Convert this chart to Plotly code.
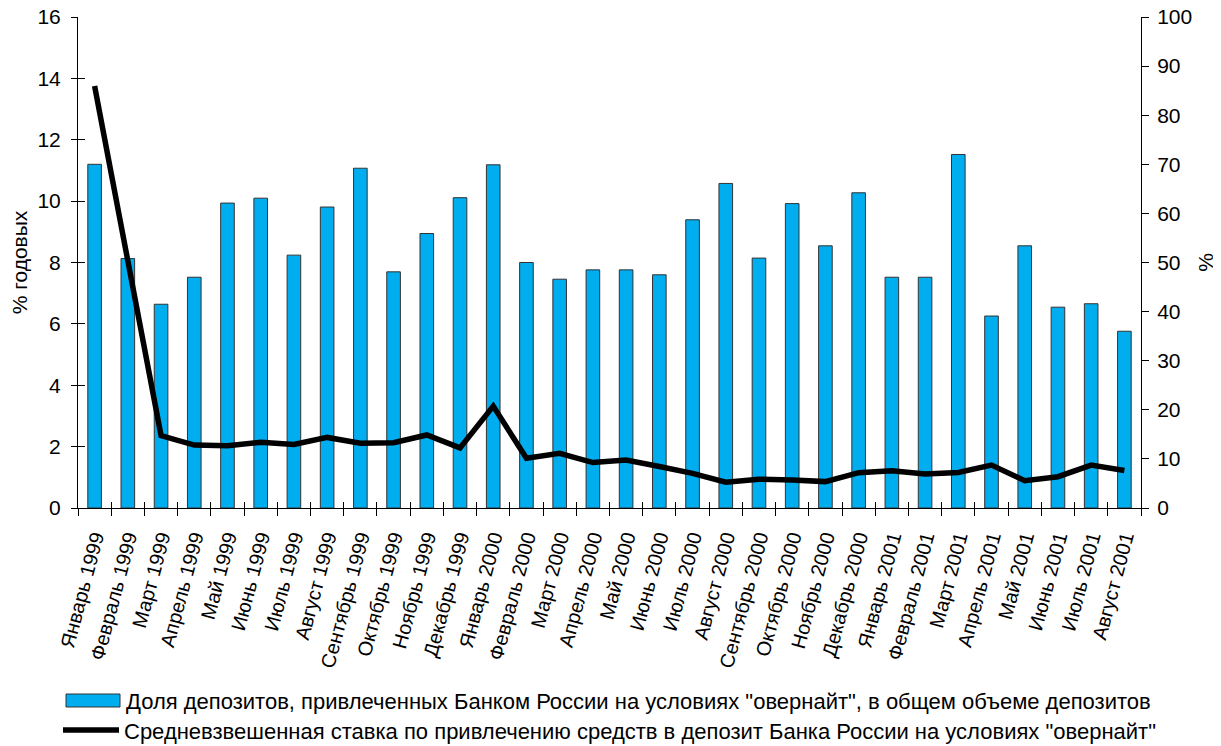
import plotly.graph_objects as go

months = ["Январь 1999", "Февраль 1999", "Март 1999", "Апрель 1999", "Май 1999", "Июнь 1999",
          "Июль 1999", "Август 1999", "Сентябрь 1999", "Октябрь 1999", "Ноябрь 1999", "Декабрь 1999",
          "Январь 2000", "Февраль 2000", "Март 2000", "Апрель 2000", "Май 2000", "Июнь 2000",
          "Июль 2000", "Август 2000", "Сентябрь 2000", "Октябрь 2000", "Ноябрь 2000", "Декабрь 2000",
          "Январь 2001", "Февраль 2001", "Март 2001", "Апрель 2001", "Май 2001", "Июнь 2001",
          "Июль 2001", "Август 2001"]

share_pct = [70.0, 50.8, 41.5, 47.0, 62.1, 63.1, 51.5, 61.3, 69.2, 48.1, 55.9, 63.2,
             69.9, 50.0, 46.6, 48.5, 48.5, 47.5, 58.7, 66.1, 50.9, 62.0, 53.4, 64.2,
             47.0, 47.0, 72.0, 39.1, 53.4, 40.9, 41.6, 36.0]

rate_pa = [13.75, 8.0, 2.36, 2.05, 2.03, 2.14, 2.07, 2.30, 2.11, 2.13, 2.38, 1.96,
           3.32, 1.62, 1.78, 1.48, 1.56, 1.35, 1.13, 0.84, 0.94, 0.91, 0.86, 1.15,
           1.21, 1.11, 1.16, 1.40, 0.89, 1.02, 1.40, 1.22]

name_bar = 'Доля депозитов, привлеченных Банком России на условиях "овернайт", в общем объеме депозитов'
name_line = 'Средневзвешенная ставка по привлечению средств в депозит Банка России на условиях "овернайт"'

# page has an 8px body margin: figure origin sits at page (8, 8)
OFF = 8
W, H = 1221 - OFF, 746 - OFF
ML, MT = 78 - OFF, 17 - OFF
MR = W - (1141 - OFF)
MB = H - (508 - OFF)
PW = W - ML - MR
PH = H - MT - MB
FONT = "Liberation Sans, Arial, sans-serif"
FS = 21
FSX = 20
FSL = 22

idx = list(range(len(months)))
bounds = [i - 0.5 for i in range(len(months) + 1)]


def px2x(px):
    return (px - OFF - ML) / PW


def py2y(py):
    return (H - MB - (py - OFF)) / PH


fig = go.Figure()
fig.add_trace(go.Bar(x=idx, y=share_pct, name=name_bar, width=0.41,
                     marker=dict(color="#00ADEF", line=dict(color="#333333", width=1)),
                     xaxis="x", yaxis="y", showlegend=False))
fig.add_trace(go.Scatter(x=idx, y=rate_pa, name=name_line, mode="lines",
                         line=dict(color="black", width=5.5),
                         xaxis="x", yaxis="y2", showlegend=False))

axis_common = dict(showgrid=False, zeroline=False, linecolor="black", linewidth=1,
                   tickcolor="black", automargin=False, ticklabeloverflow="allow",
                   tickfont=dict(family=FONT, size=FS, color="black"))

fig.update_layout(
    width=W, height=H,
    margin=dict(l=ML, r=MR, t=MT, b=MB),
    plot_bgcolor="white", paper_bgcolor="white",
    font=dict(family=FONT, size=FS, color="black"),
    xaxis=dict(range=[-0.5, len(months) - 0.5], tickmode="array", tickvals=idx, ticktext=months,
               tickangle=-75, ticks="", showline=True, ticklabelstandoff=9,
               minor=dict(tickmode="array", tickvals=bounds, ticks="outside", ticklen=7,
                          tickcolor="black", tickwidth=1),
               anchor="y", **{**axis_common, "tickfont": dict(family=FONT, size=FSX, color="black")}),
    xaxis2=dict(range=[-0.5, len(months) - 0.5], overlaying="x", anchor="y", tickmode="array",
                tickvals=bounds, ticks="inside", ticklen=6, showticklabels=False, automargin=False,
                showline=False, showgrid=False, zeroline=False, tickcolor="black"),
    yaxis=dict(range=[0, 100], dtick=10, side="right", ticks="outside", ticklen=7,
               showline=True, ticklabelstandoff=4,
               title=dict(text="%", standoff=7, font=dict(family=FONT, size=FS)),
               anchor="x", **axis_common),
    yaxis2=dict(range=[0, 16], dtick=2, side="left", overlaying="y", ticks="outside", ticklen=6,
                showline=True, ticklabelstandoff=6,
                title=dict(text="% годовых", standoff=8, font=dict(family=FONT, size=FS)),
                anchor="x", **axis_common),
    yaxis3=dict(range=[0, 16], dtick=2, side="left", overlaying="y", ticks="inside", ticklen=7,
                showticklabels=False, showline=False, showgrid=False, zeroline=False,
                automargin=False, tickcolor="black", anchor="x"),
    showlegend=False,
)

# invisible helper so overlay tick axes render
fig.add_trace(go.Scatter(x=[0], y=[0], mode="markers", marker=dict(opacity=0),
                         xaxis="x2", yaxis="y3", hoverinfo="skip", showlegend=False))

# custom legend
fig.add_shape(type="rect", xref="paper", yref="paper",
              x0=px2x(66), x1=px2x(120), y0=py2y(707), y1=py2y(694),
              fillcolor="#00ADEF", line=dict(color="#333333", width=1))
fig.add_shape(type="line", xref="paper", yref="paper",
              x0=px2x(63), x1=px2x(119), y0=py2y(730), y1=py2y(730),
              line=dict(color="black", width=5.5))
fig.add_annotation(text=name_bar, xref="paper", yref="paper", x=px2x(124), y=py2y(701),
                   xanchor="left", yanchor="middle", showarrow=False,
                   font=dict(family=FONT, size=FSL, color="black"))
fig.add_annotation(text=name_line, xref="paper", yref="paper", x=px2x(122), y=py2y(731),
                   xanchor="left", yanchor="middle", showarrow=False,
                   font=dict(family=FONT, size=FSL, color="black"))

fig.write_html("out.html")
